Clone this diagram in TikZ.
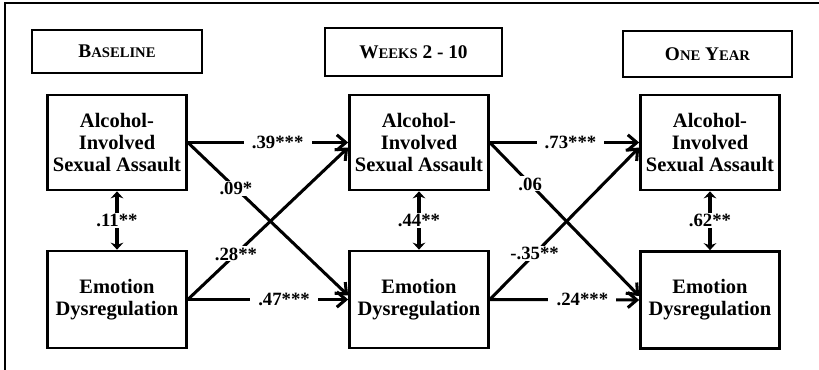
\documentclass[tikz,border=0pt]{standalone}
\usepackage{fontspec}
\setmainfont{Liberation Serif}
\usetikzlibrary{arrows.meta}

\newcommand{\smallcap}[1]{{\fontsize{12.5}{14}\selectfont #1}}

\begin{document}
\begin{tikzpicture}[x=0.03cm,y=-0.03cm,
headbox/.style={draw,line width=2.3pt,font=\fontsize{16.5}{19}\selectfont\bfseries},
varbox/.style={draw,line width=2.3pt,minimum width=4.17cm,align=center,font=\fontsize{17.5}{19}\selectfont\bfseries},
coef/.style={fill=white,inner xsep=7pt,inner ysep=1pt,font=\fontsize{16}{18}\selectfont\bfseries},
patharrow/.style={line width=2.6pt,-{Straight Barb[length=2.7mm,width=4.6mm]}},
corrarrow/.style={line width=2.6pt,{Stealth[length=2.1mm,width=3.8mm]}-{Stealth[length=2.1mm,width=3.8mm]}}]

\useasboundingbox (0,0) rectangle (819,370);

% frame
\draw[line width=1.2pt] (5,370) -- (5,3) -- (819,3);

% time points
\node[headbox,minimum width=5.1cm,minimum height=1.29cm] (head1) at (117,51.5) {B\smallcap{ASELINE}};
\node[headbox,minimum width=5.31cm,minimum height=1.44cm] (head2) at (413.5,52) {W\smallcap{EEKS} 2 - 10};
\node[headbox,minimum width=5.07cm,minimum height=1.38cm] (head3) at (707.5,54) {O\smallcap{NE} Y\smallcap{EAR}};

% variables
\node[varbox,minimum height=2.85cm] (aisa1) at (117,142.5) {Alcohol-\\Involved\\Sexual Assault};
\node[varbox,minimum height=2.91cm] (ed1) at (117,299.5) {Emotion\\Dysregulation};
\node[varbox,minimum height=2.85cm] (aisa2) at (419,142.5) {Alcohol-\\Involved\\Sexual Assault};
\node[varbox,minimum height=2.91cm] (ed2) at (419,299.5) {Emotion\\Dysregulation};
\node[varbox,minimum height=2.85cm] (aisa3) at (710,142.5) {Alcohol-\\Involved\\Sexual Assault};
\node[varbox,minimum height=2.91cm] (ed3) at (710,300) {Emotion\\Dysregulation};

% correlations
\draw[corrarrow] (aisa1.south) -- node[coef] {.11**} (ed1.north);
\draw[corrarrow] (aisa2.south) -- node[coef] {.44**} (ed2.north);
\draw[corrarrow] (aisa3.south) -- node[coef] {.62**} (ed3.north);

% baseline to weeks 2 - 10
\draw[patharrow] (aisa1.east) -- node[coef,pos=.56] {.39***} (aisa2.west);
\draw[patharrow] (ed1.east) -- node[coef,pos=.6] {.47***} (ed2.west);
\draw[patharrow] (aisa1.east) -- node[coef,pos=.3] {.09*} ([yshift=0.12cm]ed2.west);
\draw[patharrow] (ed1.east) -- node[coef,pos=.3] {.28**} ([yshift=-0.15cm]aisa2.west);

% weeks 2 - 10 to one year
\draw[patharrow] (aisa2.east) -- node[coef,pos=.54] {.73***} (aisa3.west);
\draw[patharrow] (ed2.east) -- node[coef,pos=.62] {.24***} (ed3.west);
\draw[patharrow] (aisa2.east) -- node[coef,pos=.27] {.06} ([yshift=0.12cm]ed3.west);
\draw[patharrow] (ed2.east) -- node[coef,pos=.3] {-.35**} ([yshift=-0.15cm]aisa3.west);

\end{tikzpicture}
\end{document}
